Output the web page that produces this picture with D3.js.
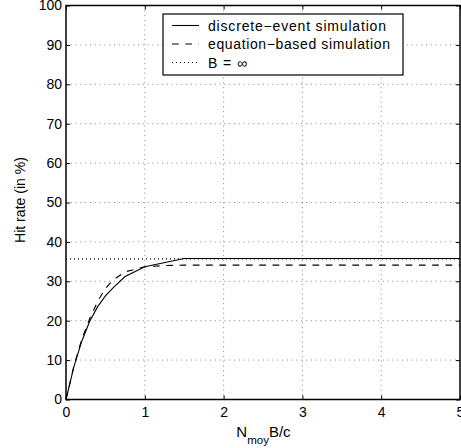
<!DOCTYPE html>
<html><head><meta charset="utf-8">
<script src="https://cdn.jsdelivr.net/npm/d3@7"></script>
<style>
html,body{margin:0;padding:0;background:#fff;}
svg{display:block;}
text{font-family:"Liberation Sans",Arial,Helvetica,sans-serif;fill:#000;}
</style></head>
<body>
<script>
// ---- data ----
const xTicks = [0,1,2,3,4,5];
const yTicks = [0,10,20,30,40,50,60,70,80,90,100];
const discreteX = [0,0.1,0.2,0.3,0.4,0.5,0.6,0.75,1,1.5,2,2.5,3,3.5,4,4.5,5];
const discreteY = [0,8.3,14.8,19.8,23.5,26.3,28.4,31.2,33.7,35.8,35.8,35.8,35.8,35.8,35.8,35.8,35.8];
const equationX = [0,0.1,0.2,0.3,0.4,0.5,0.6,0.75,1,1.25,1.5,2,3,4,5];
const equationY = [0,8.5,15.3,20.5,24.8,28.2,30.4,32.4,33.7,34.0,34.1,34.1,34.1,34.1,34.1];
const infiniteX = [0,5];
const infiniteY = [35.7,35.7];
const legendLabels = ["discrete\u2212event simulation","equation\u2212based simulation","B = \u221e"];

const W = 461, H = 448;
const L = 66, T = 5.5, R = 460, B = 399.5;
const svg = d3.select("body").append("svg").attr("width",W).attr("height",H);
const x = d3.scaleLinear().domain([0,5]).range([L,R]);
const y = d3.scaleLinear().domain([0,100]).range([B,T]);

// grid
const g = svg.append("g");
g.selectAll(".vg").data(xTicks.slice(1,-1)).enter().append("line")
  .attr("x1",d=>x(d)).attr("x2",d=>x(d)).attr("y1",T).attr("y2",B)
  .attr("stroke","#666").attr("stroke-width",0.8).attr("stroke-dasharray","1,3.8");
g.selectAll(".hg").data(yTicks.slice(1,-1)).enter().append("line")
  .attr("x1",L).attr("x2",R).attr("y1",d=>y(d)).attr("y2",d=>y(d))
  .attr("stroke","#666").attr("stroke-width",0.8).attr("stroke-dasharray","1,3.8");

// lines
const line = d3.line().x(d=>x(d[0])).y(d=>y(d[1]));
svg.append("path").datum(infiniteX.map((v,i)=>[v,infiniteY[i]]))
  .attr("d",line).attr("fill","none").attr("stroke","#000").attr("stroke-width",1.1).attr("stroke-dasharray","1,3");
svg.append("path").datum(equationX.map((v,i)=>[v,equationY[i]]))
  .attr("d",line).attr("fill","none").attr("stroke","#000").attr("stroke-width",1.1).attr("stroke-dasharray","6.7,6.6");
svg.append("path").datum(discreteX.map((v,i)=>[v,discreteY[i]]))
  .attr("d",line).attr("fill","none").attr("stroke","#000").attr("stroke-width",1.1);

// axes (inside ticks)
const tickLen = 4;
const axB = svg.append("g").attr("transform",`translate(0,${B})`)
  .call(d3.axisBottom(x).tickValues(xTicks).tickSize(-tickLen).tickPadding(8).tickFormat(d3.format("d")));
const axT = svg.append("g").attr("transform",`translate(0,${T})`)
  .call(d3.axisTop(x).tickValues(xTicks).tickSize(-tickLen).tickFormat(""));
const axL = svg.append("g").attr("transform",`translate(${L},0)`)
  .call(d3.axisLeft(y).tickValues(yTicks).tickSize(-tickLen).tickPadding(4).tickFormat(d3.format("d")));
const axR = svg.append("g").attr("transform",`translate(${R},0)`)
  .call(d3.axisRight(y).tickValues(yTicks).tickSize(-tickLen).tickFormat(""));
[axB,axT,axL,axR].forEach(a=>{
  a.select(".domain").remove();
  a.selectAll("line").attr("stroke","#000").attr("stroke-width",1);
  a.selectAll("text").attr("font-size",14).attr("font-family","Liberation Sans, Arial, sans-serif").attr("fill","#000");
});
svg.append("rect").attr("x",L).attr("y",T).attr("width",R-L).attr("height",B-T)
  .attr("fill","none").attr("stroke","#000").attr("stroke-width",1.5);

// axis labels
const xl = svg.append("text").attr("x",263.5).attr("y",437).attr("text-anchor","middle").attr("font-size",15);
xl.append("tspan").text("N");
xl.append("tspan").attr("dy",6.5).attr("font-size",11.5).text("moy");
xl.append("tspan").attr("dy",-6.5).text("B/c");
svg.append("text").attr("transform",`translate(25,200) rotate(-90)`).attr("text-anchor","middle")
  .attr("font-size",14).attr("textLength",86).attr("lengthAdjust","spacing").text("Hit rate (in %)");

// legend
const lg = svg.append("g");
lg.append("rect").attr("x",163).attr("y",14).attr("width",240).attr("height",61)
  .attr("fill","#fff").attr("stroke","#000").attr("stroke-width",1.2);
const dashes = [null,"6.7,6.6","1,3"];
const legendW = [178,182,39];
legendLabels.forEach((t,i)=>{
  const yy = 25.5 + i*18.5;
  lg.append("line").attr("x1",172).attr("x2",199).attr("y1",yy).attr("y2",yy)
    .attr("stroke","#000").attr("stroke-width",1.1).attr("stroke-dasharray",dashes[i]);
  lg.append("text").attr("x",208).attr("y",yy+5).attr("font-size",14)
    .attr("textLength",legendW[i]).attr("lengthAdjust","spacing").text(t);
});
</script>
</body></html>
